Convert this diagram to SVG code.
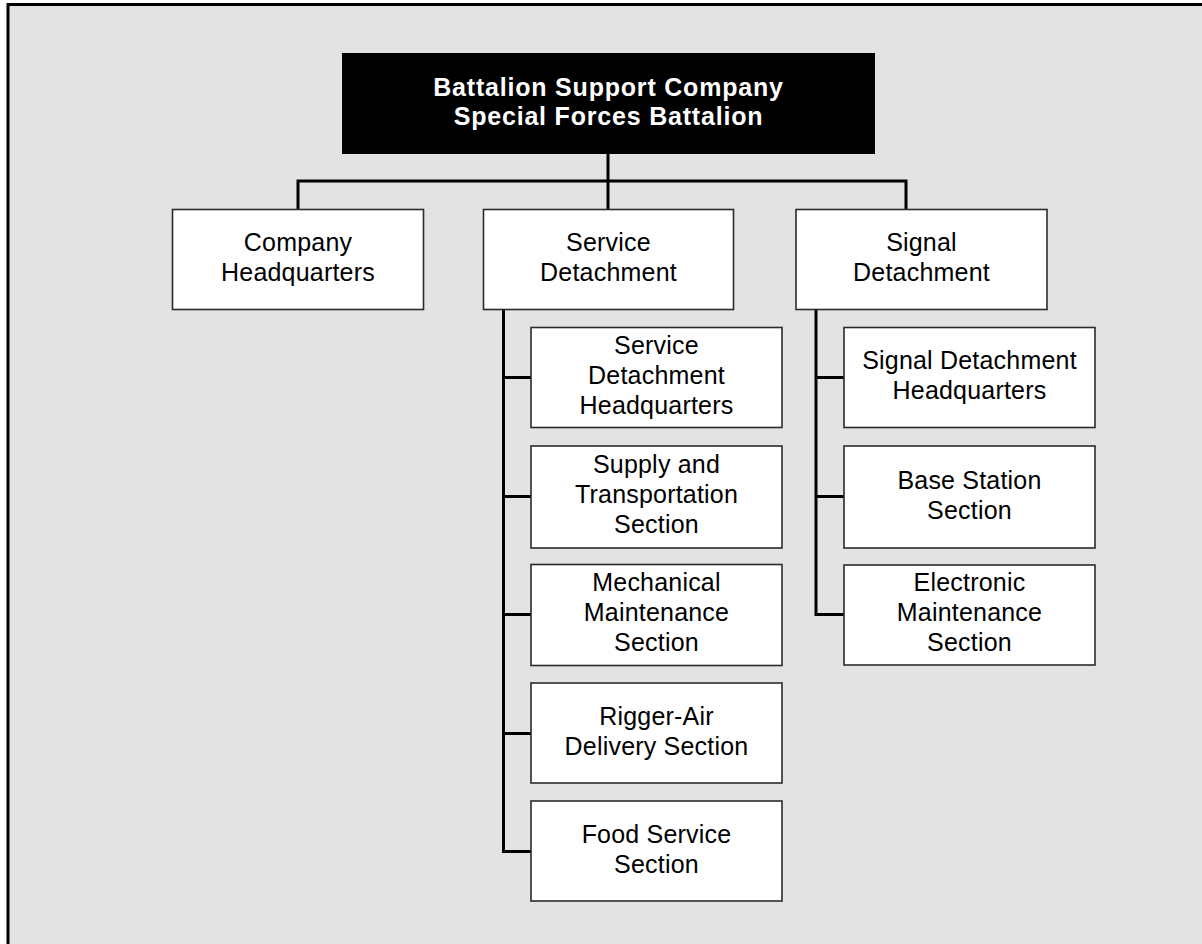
<svg xmlns="http://www.w3.org/2000/svg" width="1202" height="944" viewBox="0 0 1202 944">
<style>
.box{fill:#ffffff;stroke:#2b2b2b;stroke-width:1.6}
.t{font-family:"Liberation Sans",Arial,sans-serif;font-size:25px;letter-spacing:0.2px;fill:#000;text-anchor:middle}
.tt{font-family:"Liberation Sans",Arial,sans-serif;font-size:25px;font-weight:bold;letter-spacing:0.8px;fill:#fff;text-anchor:middle}
.c{fill:none;stroke:#000;stroke-width:3}
</style>
<rect x="0" y="0" width="1202" height="944" fill="#ffffff"/>
<rect x="8" y="4" width="1194" height="940" fill="#e3e3e3"/>
<path d="M8,944 V4.5 H1202" fill="none" stroke="#000" stroke-width="3"/>
<g id="connectors">
<path class="c" d="M608,154 V209"/>
<path class="c" d="M298,209 V181 H906 V209"/>
<path class="c" d="M503.5,309 V851.5 H531"/>
<path class="c" d="M503.5,377.5 H531 M503.5,496.5 H531 M503.5,614.5 H531 M503.5,733.5 H531"/>
<path class="c" d="M816,309 V614.5 H844"/>
<path class="c" d="M816,377.5 H844 M816,496.5 H844"/>
</g>
<g id="top">
<rect x="342" y="53" width="533" height="101" fill="#000"/>
<text class="tt" x="608.5" y="96">Battalion Support Company</text>
<text class="tt" x="608.5" y="125">Special Forces Battalion</text>
</g>
<g id="company-hq">
<rect class="box" x="172.5" y="209.5" width="251" height="100"/>
<text class="t" x="298" y="251">Company</text>
<text class="t" x="298" y="281">Headquarters</text>
</g>
<g id="service-det">
<rect class="box" x="483.5" y="209.5" width="250" height="100"/>
<text class="t" x="608.5" y="251">Service</text>
<text class="t" x="608.5" y="281">Detachment</text>
</g>
<g id="signal-det">
<rect class="box" x="796" y="209.5" width="251" height="100"/>
<text class="t" x="921.5" y="251">Signal</text>
<text class="t" x="921.5" y="281">Detachment</text>
</g>
<g id="service-hq">
<rect class="box" x="531" y="327.5" width="251" height="100"/>
<text class="t" x="656.5" y="354">Service</text>
<text class="t" x="656.5" y="384">Detachment</text>
<text class="t" x="656.5" y="414">Headquarters</text>
</g>
<g id="supply">
<rect class="box" x="531" y="446" width="251" height="102"/>
<text class="t" x="656.5" y="473">Supply and</text>
<text class="t" x="656.5" y="503">Transportation</text>
<text class="t" x="656.5" y="533">Section</text>
</g>
<g id="mechanical">
<rect class="box" x="531" y="564.5" width="251" height="101"/>
<text class="t" x="656.5" y="591">Mechanical</text>
<text class="t" x="656.5" y="621">Maintenance</text>
<text class="t" x="656.5" y="651">Section</text>
</g>
<g id="rigger">
<rect class="box" x="531" y="683" width="251" height="100"/>
<text class="t" x="656.5" y="725">Rigger-Air</text>
<text class="t" x="656.5" y="755">Delivery Section</text>
</g>
<g id="food">
<rect class="box" x="531" y="801" width="251" height="100"/>
<text class="t" x="656.5" y="843">Food Service</text>
<text class="t" x="656.5" y="873">Section</text>
</g>
<g id="signal-hq">
<rect class="box" x="844" y="327.5" width="251" height="100"/>
<text class="t" x="969.5" y="369">Signal Detachment</text>
<text class="t" x="969.5" y="399">Headquarters</text>
</g>
<g id="base-station">
<rect class="box" x="844" y="446" width="251" height="102"/>
<text class="t" x="969.5" y="489">Base Station</text>
<text class="t" x="969.5" y="519">Section</text>
</g>
<g id="electronic">
<rect class="box" x="844" y="565" width="251" height="100"/>
<text class="t" x="969.5" y="591">Electronic</text>
<text class="t" x="969.5" y="621">Maintenance</text>
<text class="t" x="969.5" y="651">Section</text>
</g>
</svg>
